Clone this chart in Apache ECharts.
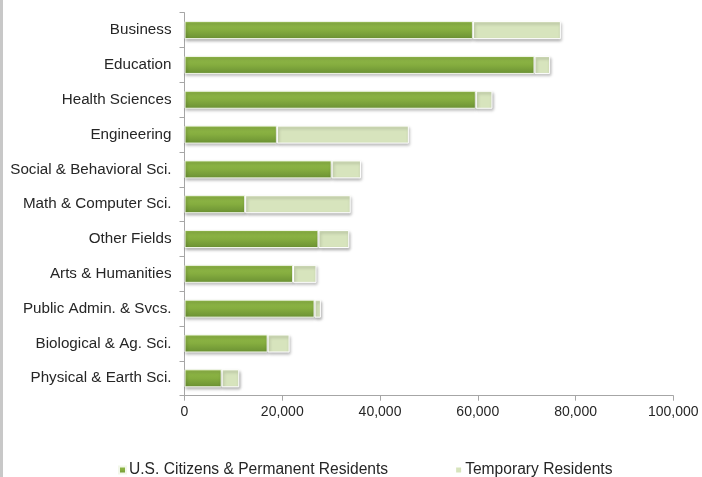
<!DOCTYPE html>
<html>
<head>
<meta charset="utf-8">
<script src="https://cdn.jsdelivr.net/npm/echarts@6/dist/echarts.min.js"></script>
<style>html,body{margin:0;padding:0;background:#fff;}#c{width:702px;height:477px;}</style>
</head>
<body>
<div id="c"></div>
<script>
const categories = ["Business","Education","Health Sciences","Engineering","Social & Behavioral Sci.","Math & Computer Sci.","Other Fields","Arts & Humanities","Public Admin. & Svcs.","Biological & Ag. Sci.","Physical & Earth Sci."];
const citizens = [59000, 71600, 59600, 18900, 30100, 12400, 27400, 22200, 26600, 17000, 7600];
const temporary = [18000, 3200, 3400, 27000, 6000, 21600, 6300, 4800, 1300, 4500, 3600];
const xTicks = [0, 20000, 40000, 60000, 80000, 100000];

const chart = echarts.init(document.getElementById('c'));
const fmt = v => v.toString().replace(/\B(?=(\d{3})+(?!\d))/g, ',');
chart.setOption({
  animation: false,
  graphic: [{type:'rect', left:0, top:0, shape:{width:3, height:477}, style:{fill:'#c8c8c8'}}],
  grid: {left: 184.5, right: 28.7, top: 12.7, bottom: 81.3},
  legend: {
    left: 118, top: 462, padding: 0, itemGap: 66, itemWidth: 7, itemHeight: 7, icon: 'rect',
    textStyle: {fontFamily: 'Liberation Sans, Arial', fontSize: 15.6, color: '#262626', padding:[0,0,0,-2]},
    data: ['U.S. Citizens & Permanent Residents', 'Temporary Residents']
  },
  xAxis: {
    type: 'value', min: xTicks[0], max: xTicks[xTicks.length-1], interval: 20000,
    axisLine: {show: true, lineStyle: {color: '#a6a6a6'}},
    axisTick: {show: true, length: 5, lineStyle: {color: '#a6a6a6'}},
    splitLine: {show: false},
    axisLabel: {formatter: fmt, fontFamily: 'Liberation Sans, Arial', fontSize: 14, color: '#262626', margin: 9}
  },
  yAxis: {
    type: 'category', data: categories, inverse: true,
    axisLine: {show: true, lineStyle: {color: '#a6a6a6'}},
    axisTick: {show: true, length: 5, lineStyle: {color: '#a6a6a6'}},
    axisLabel: {fontFamily: 'Liberation Sans, Arial', fontSize: 15.2, color: '#262626', margin: 13}
  },
  series: [
    {
      name: 'U.S. Citizens & Permanent Residents', type: 'bar', stack: 'a', data: citizens,
      barWidth: 18,
      itemStyle: {
        color: new echarts.graphic.LinearGradient(0,0,0,1,[{offset:0,color:'#93bb4a'},{offset:0.5,color:'#85ad3f'},{offset:1,color:'#6a9033'}]),
        borderColor: '#f2f7ea', borderWidth: 1,
        shadowBlur: 3, shadowColor: 'rgba(0,0,0,0.3)', shadowOffsetX: 1, shadowOffsetY: 2
      }
    },
    {
      name: 'Temporary Residents', type: 'bar', stack: 'a', data: temporary,
      barWidth: 18,
      itemStyle: {
        color: '#d7e4bd', borderColor: '#ffffff', borderWidth: 1,
        shadowBlur: 3, shadowColor: 'rgba(0,0,0,0.3)', shadowOffsetX: 1, shadowOffsetY: 2
      }
    }
  ]
});
</script>
</body>
</html>
